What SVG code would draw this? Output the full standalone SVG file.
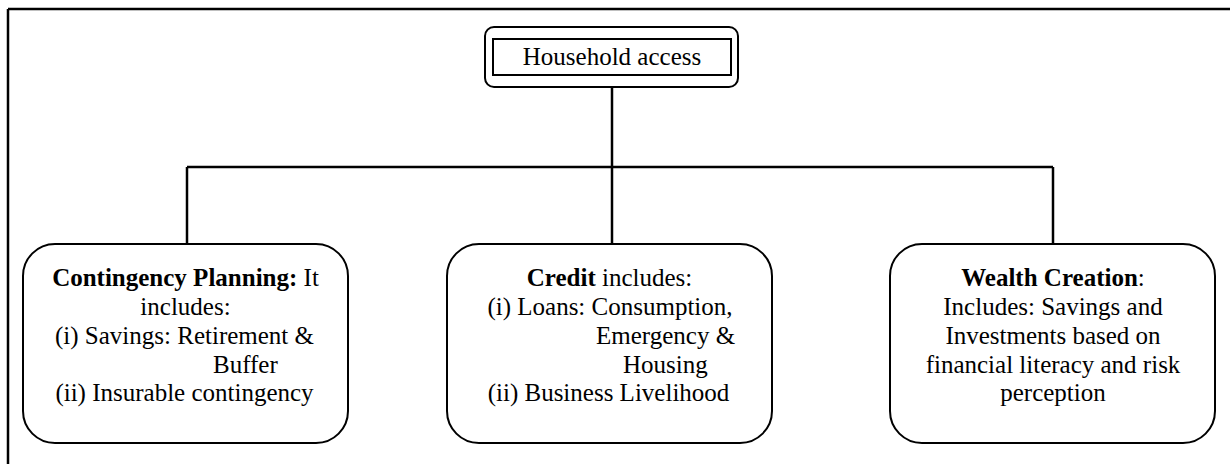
<svg xmlns="http://www.w3.org/2000/svg" width="1230" height="464" viewBox="0 0 1230 464">
<style>
.t{font-family:"Liberation Serif","Times New Roman",serif;font-size:25px;fill:#000}
.c{text-anchor:middle}
.b{font-weight:bold}
.box{fill:#fff;stroke:#000;stroke-width:2}
.ln{stroke:#000;stroke-width:2.5;fill:none}
</style>
<rect width="1230" height="464" fill="#fff"/>
<g id="frame">
<path d="M8,9 H1230 M8,9 V464" class="ln" stroke-width="2"/>
</g>
<g id="connectors">
<path class="ln" d="M612,87 V244"/>
<path class="ln" d="M187,167 H1053"/>
<path class="ln" d="M187,167 V244"/>
<path class="ln" d="M1053,167 V244"/>
</g>
<g id="household">
<rect class="box" x="485" y="27" width="253" height="60" rx="9"/>
<rect class="box" x="493" y="39" width="238" height="36" rx="0"/>
<text class="t c" x="612" y="65">Household access</text>
</g>
<g id="contingency">
<rect class="box" x="23" y="244" width="325" height="199" rx="32"/>
<text class="t c" x="185.5" y="286"><tspan class="b">Contingency Planning:</tspan> It</text>
<text class="t c" x="185.5" y="315">includes:</text>
<text class="t c" x="184.5" y="344">(i) Savings: Retirement &amp;</text>
<text class="t" x="213" y="373">Buffer</text>
<text class="t c" x="184.5" y="401">(ii) Insurable contingency</text>
</g>
<g id="credit">
<rect class="box" x="447" y="244" width="325" height="199" rx="32"/>
<text class="t c" x="609.5" y="286"><tspan class="b">Credit</tspan> includes:</text>
<text class="t c" x="610" y="315">(i) Loans: Consumption,</text>
<text class="t" x="596" y="344">Emergency &amp;</text>
<text class="t" x="623" y="373">Housing</text>
<text class="t c" x="608.5" y="401">(ii) Business Livelihood</text>
</g>
<g id="wealth">
<rect class="box" x="890" y="244" width="325" height="199" rx="32"/>
<text class="t c" x="1053" y="286"><tspan class="b">Wealth Creation</tspan>:</text>
<text class="t c" x="1053" y="315">Includes: Savings and</text>
<text class="t c" x="1053" y="344">Investments based on</text>
<text class="t c" x="1053" y="373">financial literacy and risk</text>
<text class="t c" x="1053" y="401">perception</text>
</g>
</svg>
